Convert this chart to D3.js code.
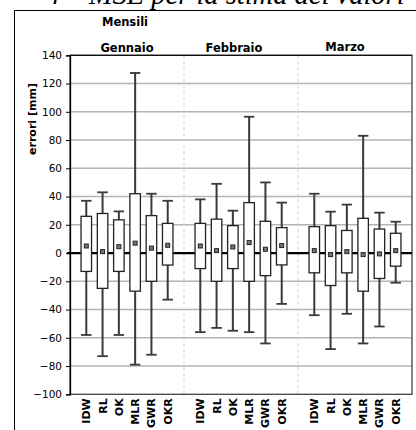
<!DOCTYPE html>
<html><head><meta charset="utf-8">
<script src="https://cdn.jsdelivr.net/npm/d3@7"></script>
<style>body{margin:0;background:#fff}svg{display:block}</style>
</head><body>
<script>
const months = ["Gennaio","Febbraio","Marzo"];
const methods = ["IDW","RL","OK","MLR","GWR","OKR"];
// per month, per method: [low whisker, q1, mean, q3, high whisker]
const gennaio  = [[-58,-13,5,26,37],[-73,-25,1,28,43],[-58,-13,4.5,23.5,29.5],[-79,-27,7,42,127.5],[-72,-20,3.5,26.5,42],[-33,-8.5,5.5,21,37]];
const febbraio = [[-56,-11,5,21,38],[-53,-20,1.7,24,49],[-55,-11,4.3,19.4,30],[-56,-20,7.4,35.7,96.5],[-64,-16,2.7,22.5,50],[-36,-8.4,5.3,18,35.7]];
const marzo    = [[-44,-14,1.7,18.7,42],[-68,-23,-1.1,19.4,29.3],[-43,-14,1,16,34.3],[-64,-27,-1.1,24.6,83],[-52,-18,-0.6,17,28.6],[-21,-9.3,1.7,14,22.2]];
const yTicks = [-100,-80,-60,-40,-20,0,20,40,60,80,100,120,140];
const seriesByMonth = [gennaio, febbraio, marzo];

const W = 416, H = 430;
const svg = d3.select("body").append("svg").attr("width", W).attr("height", H);
const L = 70, R = 412, T = 55.3, B = 394.3;
const y = d3.scaleLinear().domain([-100,140]).range([B,T]);
const gx = d3.scaleBand().domain(months).range([L,R]);
const mx = d3.scalePoint().domain(methods).range([0,gx.bandwidth()]).padding(1);
const font = "'DejaVu Sans', Verdana, sans-serif";

// title (cut off at the top edge, as in the reference)
svg.append("text").attr("x", 46).attr("y", 4)
  .attr("font-family","'Liberation Serif', serif").attr("font-style","italic")
  .attr("font-size", 28.5).attr("fill","#000")
  .text("4 – MSE per la stima dei valori");

// outer frame
svg.append("path").attr("d", `M14.5,${H} V10.5 H${W}`).attr("fill","none").attr("stroke","#000").attr("stroke-width",1);

// gridlines
svg.append("g").selectAll("line").data(yTicks.filter(t => t !== 0 && t !== 140 && t !== -100)).join("line")
  .attr("x1", L).attr("x2", R).attr("y1", d => y(d)).attr("y2", d => y(d))
  .attr("stroke","#b4b4b4").attr("stroke-width",1.5);

// group separators
svg.append("g").selectAll("line").data(months.slice(1)).join("line")
  .attr("x1", d => gx(d)).attr("x2", d => gx(d)).attr("y1", T).attr("y2", B)
  .attr("stroke","#cfcfcf").attr("stroke-width",1).attr("stroke-dasharray","3,3");

// plot border
svg.append("rect").attr("x", L).attr("y", T).attr("width", R-L).attr("height", B-T)
  .attr("fill","none").attr("stroke","#444").attr("stroke-width",1.3);
svg.append("line").attr("x1",L).attr("x2",R).attr("y1",T).attr("y2",T).attr("stroke","#111").attr("stroke-width",1.3);

// zero line
svg.append("line").attr("x1", L-3).attr("x2", R).attr("y1", y(0)).attr("y2", y(0))
  .attr("stroke","#000").attr("stroke-width",2.2);

// y axis
const yAxis = d3.axisLeft(y).tickValues(yTicks).tickSize(4).tickPadding(4);
const ya = svg.append("g").attr("transform",`translate(${L},0)`).call(yAxis);
ya.select(".domain").attr("stroke","#000").attr("stroke-width",1.3);
ya.selectAll(".tick line").attr("stroke","#000");
ya.selectAll("text").attr("font-family", font).attr("font-size", 10.5).attr("fill","#000");

svg.append("text").attr("transform",`translate(36,119) rotate(-90)`).attr("text-anchor","middle")
  .attr("font-family", font).attr("font-weight","bold").attr("font-size",11).text("errori [mm]");

// boxes
const bw = 10.5;
const groups = svg.append("g").selectAll("g").data(months).join("g")
  .attr("transform", d => `translate(${gx(d)},0)`);
groups.each(function(m, gi) {
  const g = d3.select(this);
  const data = seriesByMonth[gi].map((v,i) => ({k: methods[i], lo:v[0], q1:v[1], mean:v[2], q3:v[3], hi:v[4]}));
  const it = g.selectAll("g").data(data).join("g").attr("transform", d => `translate(${mx(d.k)},0)`);
  it.append("line").attr("y1", d => y(d.hi)).attr("y2", d => y(d.lo)).attr("stroke","#3a3a3a").attr("stroke-width",2);
  it.append("line").attr("x1",-bw/2).attr("x2",bw/2).attr("y1", d => y(d.hi)).attr("y2", d => y(d.hi)).attr("stroke","#3a3a3a").attr("stroke-width",1.8);
  it.append("line").attr("x1",-bw/2).attr("x2",bw/2).attr("y1", d => y(d.lo)).attr("y2", d => y(d.lo)).attr("stroke","#3a3a3a").attr("stroke-width",1.8);
  it.append("rect").attr("x",-bw/2).attr("width",bw).attr("y", d => y(d.q3)).attr("height", d => y(d.q1)-y(d.q3))
    .attr("fill","#fff").attr("stroke","#222").attr("stroke-width",1.3);
  it.append("rect").attr("x",-2).attr("width",4).attr("y", d => y(d.mean)-2).attr("height",4)
    .attr("fill","#777").attr("stroke","#222").attr("stroke-width",1);
  it.append("text").attr("transform", d => `translate(4,${B+4}) rotate(-90)`).attr("text-anchor","end")
    .attr("font-family", font).attr("font-weight","bold").attr("font-size",11).text(d => d.k);
});

// month titles
const titleDx = [0,-7,-10];
svg.append("g").selectAll("text").data(months).join("text")
  .attr("x", (d,i) => gx(d) + gx.bandwidth()/2 + titleDx[i]).attr("y", (d,i) => i===2 ? 51 : 52)
  .attr("text-anchor","middle").attr("font-family", font).attr("font-weight","bold").attr("font-size",11.5)
  .text(d => d);
svg.append("text").attr("x",125).attr("y",26).attr("text-anchor","middle")
  .attr("font-family", font).attr("font-weight","bold").attr("font-size",11.5).text("Mensili");
</script>
</body></html>
